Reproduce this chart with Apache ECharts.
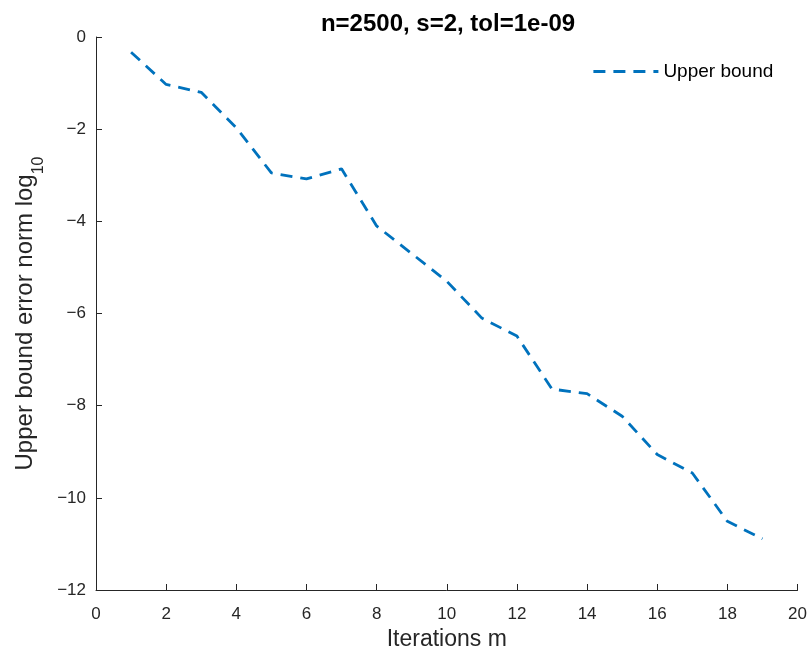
<!DOCTYPE html>
<html>
<head>
<meta charset="utf-8">
<title>Upper bound error norm</title>
<script src="https://cdn.jsdelivr.net/npm/echarts@6/dist/echarts.min.js"></script>
<style>
  html, body { margin: 0; padding: 0; background: #fff; }
  #chart { width: 810px; height: 657px; }
</style>
</head>
<body>
<div id="chart"></div>
<script>
// Values (log10 of the error norm per iteration).
const iterations = [1, 2, 3, 4, 5, 6, 7, 8, 9, 10, 11, 12, 13, 14, 15, 16, 17, 18, 19];
const upperBound = [
  -0.33, -1.03, -1.2, -1.97, -2.95, -3.08, -2.86, -4.1, -4.7, -5.3,
  -6.1, -6.49, -7.64, -7.74, -8.23, -9.06, -9.46, -10.51, -10.89,
];
const xTicks = [0, 20, 2]; // min, max, step
const yTicks = [-12, 0, 2];

const AXIS_COLOR = "#262626";
const LINE_COLOR = "#0072BD";
const FONT = "'Liberation Sans', Arial, Helvetica, sans-serif";
const DASH = [12, 8];

let chart = echarts.init(document.getElementById("chart"), null, { renderer: "canvas" });

// MATLAB uses a real minus sign in tick labels, which is wider than a hyphen.
let minusLabel = (value) => String(value).replace("-", "\u2212");

let axisCommon = () => {
  return {
    type: "value",
    axisLine: { show: true, onZero: false, lineStyle: { color: AXIS_COLOR, width: 1 } },
    axisTick: { show: true, inside: true, length: 6, lineStyle: { color: AXIS_COLOR, width: 1 } },
    splitLine: { show: false },
    nameLocation: "middle",
  };
};

let option = {
  backgroundColor: "#fff",
  animation: false,
  title: {
    text: "n=2500, s=2, tol=1e-09",
    left: 443,
    textAlign: "center",
    top: 7,
    textStyle: { fontSize: 24, fontWeight: "bold", color: "#000", fontFamily: FONT },
  },
  legend: {
    data: ["Upper bound"],
    left: 592,
    top: 62,
    padding: 0,
    itemWidth: 65,
    itemHeight: 20,
    // hide the marker circle ECharts puts on line legend icons
    itemStyle: { opacity: 0 },
    lineStyle: { color: LINE_COLOR, width: 2.8, type: DASH },
    textStyle: { fontSize: 19, color: "#000", fontFamily: FONT },
  },
  grid: { left: 96, right: 12, top: 37, bottom: 67 },
  xAxis: Object.assign(axisCommon(), {
    min: xTicks[0],
    max: xTicks[1],
    interval: xTicks[2],
    name: "Iterations m",
    nameGap: 35,
    nameTextStyle: { fontSize: 23, color: AXIS_COLOR, fontFamily: FONT },
    axisLabel: { color: AXIS_COLOR, fontSize: 17, fontFamily: FONT, margin: 16 },
  }),
  yAxis: Object.assign(axisCommon(), {
    min: yTicks[0],
    max: yTicks[1],
    interval: yTicks[2],
    // subscript: main text sits at the top of the line, "10" at the bottom
    name: "{m|Upper bound error norm log}{sub|10}",
    nameGap: 44,
    nameTextStyle: {
      color: AXIS_COLOR,
      fontFamily: FONT,
      rich: {
        m: { fontSize: 24, color: AXIS_COLOR, fontFamily: FONT, lineHeight: 24, verticalAlign: "top" },
        sub: { fontSize: 16, color: AXIS_COLOR, fontFamily: FONT, lineHeight: 33, verticalAlign: "bottom" },
      },
    },
    axisLabel: { color: AXIS_COLOR, fontSize: 17, fontFamily: FONT, margin: 10, formatter: minusLabel },
  }),
  series: [
    {
      name: "Upper bound",
      type: "line",
      data: iterations.map((m, i) => [m, upperBound[i]]),
      symbol: "none",
      smooth: false,
      lineStyle: { color: LINE_COLOR, width: 2.8, type: DASH },
      itemStyle: { color: LINE_COLOR },
    },
  ],
};

chart.setOption(option);
</script>
</body>
</html>
